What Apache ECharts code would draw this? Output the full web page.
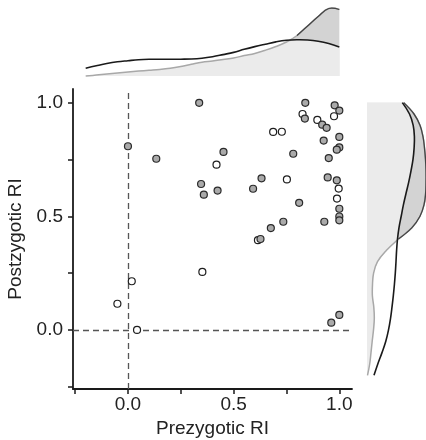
<!DOCTYPE html>
<html><head><meta charset="utf-8">
<script src="https://cdn.jsdelivr.net/npm/echarts@6/dist/echarts.min.js"></script>
<style>html,body{margin:0;padding:0;background:#fff}#c{width:426px;height:440px}</style>
</head><body><div id="c"></div>
<script>
// Scatter data: filled (gray) and open (white) markers [Prezygotic RI, Postzygotic RI]
const filledPoints = [
  [0.337,0.999],[0.0,0.808],[0.134,0.753],[0.346,0.642],[0.359,0.595],[0.424,0.613],
  [0.452,0.783],[0.839,0.999],[0.978,0.988],[1.0,0.965],[0.837,0.93],[0.919,0.903],
  [0.94,0.889],[1.0,0.849],[0.926,0.833],[1.0,0.803],[0.988,0.793],[0.782,0.775],
  [0.95,0.756],[0.945,0.671],[0.988,0.658],[0.632,0.667],[0.592,0.621],[0.81,0.559],
  [1.0,0.533],[1.0,0.499],[1.0,0.482],[0.929,0.476],[0.735,0.476],[0.676,0.448],
  [0.627,0.40],[1.0,0.066],[0.962,0.032]
];
const openPoints = [
  [0.826,0.95],[0.975,0.94],[0.896,0.924],[0.687,0.871],[0.728,0.872],[0.419,0.727],
  [0.752,0.662],[0.997,0.622],[0.989,0.578],[0.615,0.395],[0.352,0.255],[0.018,0.214],
  [-0.05,0.115],[0.043,0.0]
];
const tickValues = [-0.25, 0, 0.25, 0.5, 0.75, 1.0];
const labelValues = [0, 0.5, 1.0];
const xTitle = 'Prezygotic RI';
const yTitle = 'Postzygotic RI';

// Marginal densities (arbitrary units)
const topKdeX = [-0.2,-0.15,-0.1,-0.05,0,0.05,0.1,0.15,0.2,0.25,0.3,0.35,0.4,0.45,0.5,0.55,0.6,0.65,0.7,0.75,0.8,0.85,0.9,0.95,1.0];
const topKdeFilled = [0,0.9,1.9,3,4,4.9,5.7,6.5,7.7,9.5,11.7,13.8,15,16.5,18,20.4,22.6,25.8,29.5,34,40.5,50,59.5,67.5,66.5];
const topKdeOpen = [7.7,10.2,12.5,14.2,15.3,16.3,16.7,16.7,16.7,16.8,17,17.8,19.3,21.4,23.6,26.7,29.4,31.8,34.1,35.7,36.2,36,34.8,32.5,29];
const rightKdeY = [-0.2,-0.15,-0.1,-0.05,0,0.05,0.1,0.15,0.2,0.25,0.3,0.35,0.4,0.45,0.5,0.55,0.6,0.65,0.7,0.75,0.8,0.85,0.9,0.95,1.0];
const rightKdeFilled = [0.5,2.7,4,5.2,6.5,7.3,6.8,5.4,5.5,6.6,10.5,19.5,31.5,45,53,57,58.6,59,59,58.5,57.5,56,53,47,36.7];
const rightKdeOpen = [7,10.8,15,18.8,21.5,23.5,25,26.3,27.4,28.3,29,29.6,30.5,32,34.2,36.4,39,41.7,44,46,47.1,47.4,46.2,42.5,35.3];

const FONT = 'Liberation Sans, Arial, sans-serif';
const AX_MIN = -0.26, AX_MAX = 1.06;

function margSeries(pos, idx, along, filledD, openD) {
  const pt = (a, d) => pos === 'top' ? [a, d] : [d, a];
  return {
    type: 'custom', xAxisIndex: idx, yAxisIndex: idx, silent: true,
    data: [[0, 0]],
    renderItem: function (params, api) {
      const n = along.length;
      const gPts = along.map((a, i) => api.coord(pt(a, filledD[i])));
      const bPts = along.map((a, i) => api.coord(pt(a, openD[i])));
      const mPts = along.map((a, i) => api.coord(pt(a, Math.min(filledD[i], openD[i]))));
      const b0 = api.coord(pt(along[0], 0)), b1 = api.coord(pt(along[n - 1], 0));
      const darkPts = gPts.filter((p, i) => filledD[i] >= openD[i]);
      return { type: 'group', children: [
        { type: 'polygon', shape: { points: gPts.concat([b1, b0]) }, style: { fill: '#d3d3d3' } },
        { type: 'polygon', shape: { points: mPts.concat([b1, b0]) }, style: { fill: '#ebebeb' } },
        { type: 'polyline', shape: { points: gPts, smooth: 0.4 }, style: { stroke: '#a8a8a8', lineWidth: 1.5, fill: null } },
        { type: 'polyline', shape: { points: darkPts, smooth: 0.4 }, style: { stroke: '#444', lineWidth: 1.3, fill: null } },
        { type: 'polyline', shape: { points: bPts, smooth: 0.4 }, style: { stroke: '#1a1a1a', lineWidth: 1.6, fill: null } }
      ]};
    }
  };
}

const axisCommon = {
  type: 'value', min: AX_MIN, max: AX_MAX,
  axisLine: { show: true, onZero: false, lineStyle: { color: '#1a1a1a', width: 1.8 } },
  axisTick: { show: true, customValues: tickValues, length: 5, lineStyle: { color: '#1a1a1a', width: 1.5 } },
  axisLabel: { customValues: labelValues, formatter: v => v.toFixed(1), fontSize: 19, color: '#222', fontFamily: FONT },
  splitLine: { show: false },
  nameLocation: 'middle',
  nameTextStyle: { fontSize: 19, color: '#222', fontFamily: FONT }
};

const chart = echarts.init(document.getElementById('c'), null, { renderer: 'canvas' });
chart.setOption({
  animation: false,
  backgroundColor: '#fff',
  grid: [
    { left: 73, top: 89, width: 279, height: 300, containLabel: false, outerBoundsMode: 'none' },
    { left: 73, top: 6, width: 279, height: 70, containLabel: false, outerBoundsMode: 'none' },
    { left: 367, top: 89, width: 59, height: 300, containLabel: false, outerBoundsMode: 'none' }
  ],
  xAxis: [
    Object.assign({}, axisCommon, { gridIndex: 0, name: xTitle, nameGap: 30,
      axisLabel: Object.assign({}, axisCommon.axisLabel, { margin: 6 }) }),
    { type: 'value', gridIndex: 1, min: AX_MIN, max: AX_MAX, show: false },
    { type: 'value', gridIndex: 2, min: 0, max: 59, show: false }
  ],
  yAxis: [
    Object.assign({}, axisCommon, { gridIndex: 0, name: yTitle, nameGap: 46,
      axisLabel: Object.assign({}, axisCommon.axisLabel, { margin: 10 }) }),
    { type: 'value', gridIndex: 1, min: 0, max: 70, show: false },
    { type: 'value', gridIndex: 2, min: AX_MIN, max: AX_MAX, show: false }
  ],
  series: [
    {
      type: 'scatter', xAxisIndex: 0, yAxisIndex: 0, data: openPoints, symbolSize: 7,
      itemStyle: { color: '#ffffff', borderColor: '#1e1e1e', borderWidth: 1.2, opacity: 1 },
      z: 3,
      markLine: {
        silent: true, symbol: 'none', label: { show: false },
        lineStyle: { type: [6, 4], color: '#555', width: 1.3 },
        data: [{ xAxis: 0 }, { yAxis: 0 }],
        z: 1
      }
    },
    {
      type: 'scatter', xAxisIndex: 0, yAxisIndex: 0, data: filledPoints, symbolSize: 7,
      itemStyle: { color: '#aaaaaa', borderColor: '#2a2a2a', borderWidth: 1.2, opacity: 1 },
      z: 4
    },
    margSeries('top', 1, topKdeX, topKdeFilled, topKdeOpen),
    margSeries('right', 2, rightKdeY, rightKdeFilled, rightKdeOpen)
  ]
});
</script>
</body></html>
